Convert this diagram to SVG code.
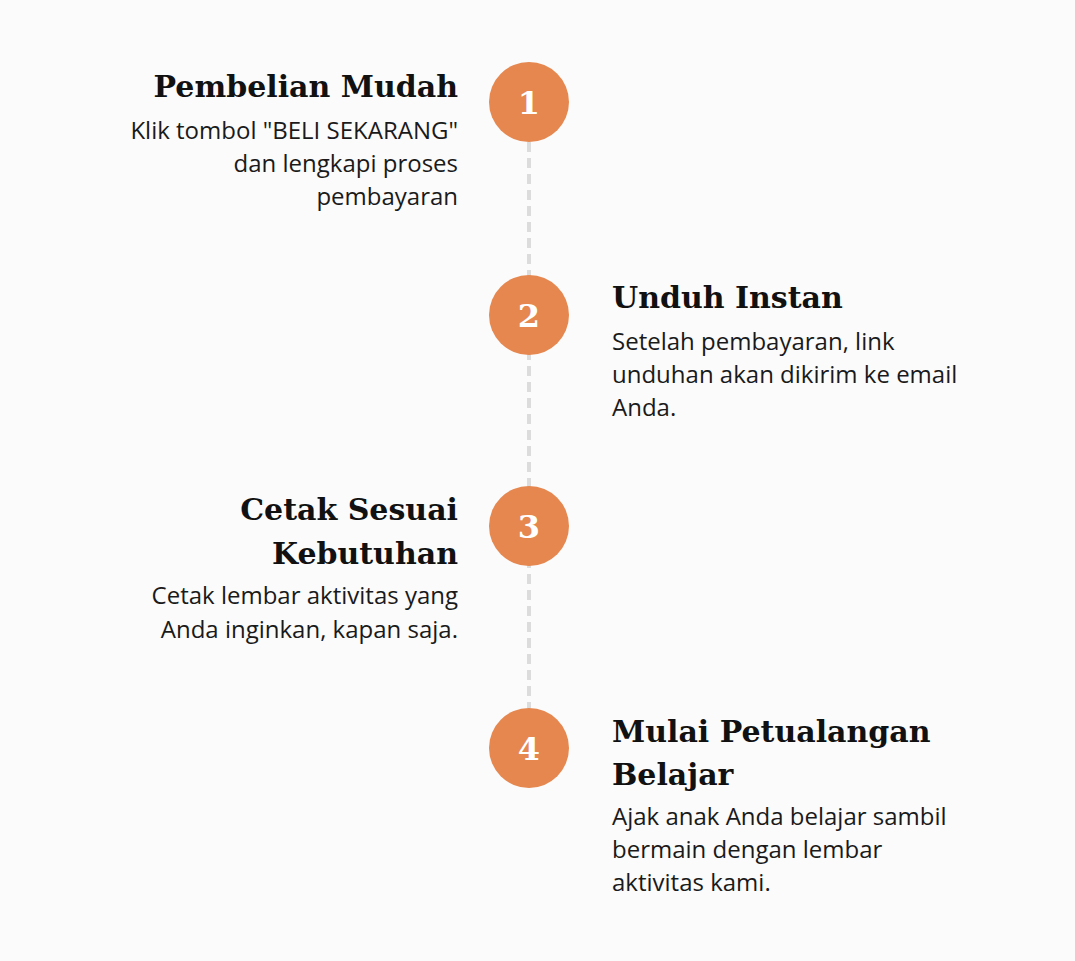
<svg xmlns="http://www.w3.org/2000/svg" width="1075" height="961" viewBox="0 0 1075 961">
<style>
.h{font-family:"DejaVu Serif","Liberation Serif",serif;font-weight:bold;font-size:30px;fill:#111}
.b{font-family:"Open Sans","Noto Sans",sans-serif;font-size:24px;fill:#1a1a1a}
.r{text-anchor:end}
.c{fill:#E5874F}
.n{font-family:"DejaVu Serif","Liberation Serif",serif;font-weight:bold;font-size:32px;fill:#fff;text-anchor:middle}
</style>
<rect width="1075" height="961" fill="#FBFBFB"/>
<g id="connectors">
<line x1="529" y1="142" x2="529" y2="708" stroke="#DCDCDC" stroke-width="4" stroke-dasharray="10 6"/>
</g>
<g id="step1">
<circle class="c" cx="529" cy="102" r="40"/>
<text class="n" x="529" y="114">1</text>
<text class="h r" x="458" y="97">Pembelian Mudah</text>
<text class="b r" x="458" y="139">Klik tombol "BELI SEKARANG"</text>
<text class="b r" x="458" y="172">dan lengkapi proses</text>
<text class="b r" x="458" y="205">pembayaran</text>
</g>
<g id="step2">
<circle class="c" cx="529" cy="315" r="40"/>
<text class="n" x="529" y="327">2</text>
<text class="h" x="612" y="308">Unduh Instan</text>
<text class="b" x="612" y="350">Setelah pembayaran, link</text>
<text class="b" x="612" y="383">unduhan akan dikirim ke email</text>
<text class="b" x="612" y="416">Anda.</text>
</g>
<g id="step3">
<circle class="c" cx="529" cy="526" r="40"/>
<text class="n" x="529" y="538">3</text>
<text class="h r" x="458" y="520">Cetak Sesuai</text>
<text class="h r" x="458" y="564">Kebutuhan</text>
<text class="b r" x="458" y="604">Cetak lembar aktivitas yang</text>
<text class="b r" x="458" y="638">Anda inginkan, kapan saja.</text>
</g>
<g id="step4">
<circle class="c" cx="529" cy="748" r="40"/>
<text class="n" x="529" y="760">4</text>
<text class="h" x="612" y="742">Mulai Petualangan</text>
<text class="h" x="612" y="785">Belajar</text>
<text class="b" x="612" y="825">Ajak anak Anda belajar sambil</text>
<text class="b" x="612" y="858">bermain dengan lembar</text>
<text class="b" x="612" y="891">aktivitas kami.</text>
</g>
</svg>
